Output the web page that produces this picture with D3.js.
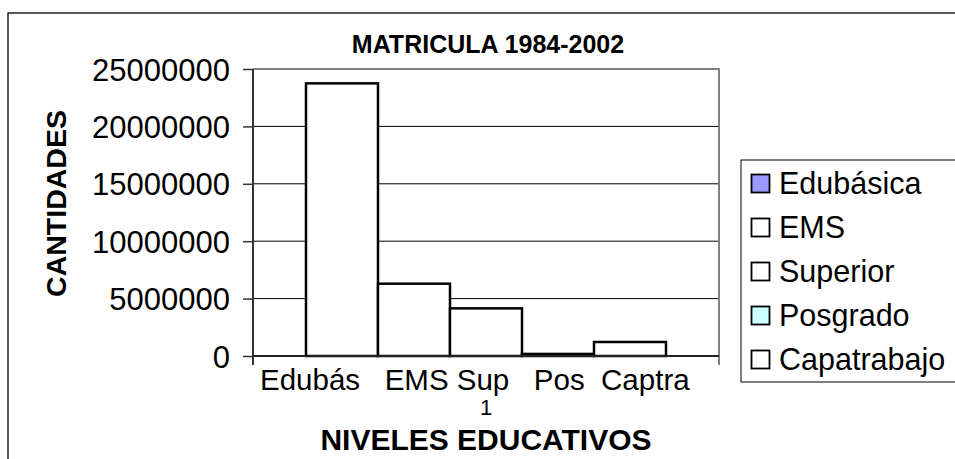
<!DOCTYPE html>
<html>
<head>
<meta charset="utf-8">
<script src="https://cdn.jsdelivr.net/npm/d3@7"></script>
<style>
  body { margin: 0; background: #fff; }
  text { font-family: "Liberation Sans", Arial, sans-serif; }
</style>
</head>
<body>
<svg id="chart"></svg>
<script>
// series of the single category "1"
var series = ["Edubásica", "EMS", "Superior", "Posgrado", "Capatrabajo"];
var values = [23750000, 6300000, 4150000, 180000, 1220000];
var legendFills = ["#9999ff", "#ffffff", "#ffffff", "#ccffff", "#ffffff"];
// labels typed under the bars
var barLabels = ["Edubás", "EMS", "Sup", "Pos", "Captra"];
var labelGaps = ["   ", " ", "   ", "  "];
var yTicks = [0, 5000000, 10000000, 15000000, 20000000, 25000000];
var categoryName = "1";

var svgWidth = 955,
    svgHeight = 459;
var plot = { left: 253, right: 719, top: 69, bottom: 356 };

var svg = d3.select('#chart')
    .attr('width', svgWidth)
    .attr('height', svgHeight);

// outer chart frame (runs off the right and bottom)
svg.append('rect')
    .attr('x', 8).attr('y', 13)
    .attr('width', 1000).attr('height', 500)
    .attr('fill', 'none')
    .attr('stroke', '#000')
    .attr('stroke-width', 1.3);

var x = d3.scaleBand()
    .domain(series)
    .range([plot.left, plot.right])
    .paddingInner(0)
    .paddingOuter(0.736);

var y = d3.scaleLinear()
    .domain([0, 25000000])
    .range([plot.bottom, plot.top]);

// gridlines
svg.append('g')
    .selectAll('line')
    .data(yTicks.filter(d => d > 0 && d < 25000000))
    .enter().append('line')
    .attr('x1', plot.left).attr('x2', plot.right)
    .attr('y1', d => y(d)).attr('y2', d => y(d))
    .attr('stroke', '#000')
    .attr('stroke-width', 1);

// plot area border top and right
svg.append('path')
    .attr('d', 'M' + plot.left + ',' + y(25000000) + 'H' + plot.right + 'V' + (plot.bottom + 9))
    .attr('fill', 'none')
    .attr('stroke', '#808080')
    .attr('stroke-width', 2);

// bars
svg.append('g')
    .selectAll('rect')
    .data(values)
    .enter().append('rect')
    .attr('x', (d, i) => x(series[i]))
    .attr('y', d => y(d))
    .attr('width', x.bandwidth())
    .attr('height', d => y(0) - y(d))
    .attr('fill', '#fff')
    .attr('stroke', '#000')
    .attr('stroke-width', 2.5);

// y axis
var yAxis = svg.append('g')
    .attr('transform', 'translate(' + plot.left + ',0)')
    .call(d3.axisLeft(y).tickValues(yTicks).tickFormat(d3.format('d')).tickSize(10).tickPadding(13));
yAxis.select('.domain').remove();
yAxis.selectAll('.tick line').attr('stroke', '#333').attr('stroke-width', 1.5);
yAxis.selectAll('.tick text')
    .attr('fill', '#000')
    .style('font-size', '31px')
    .attr('dy', '0.36em');

// axis lines
svg.append('line')
    .attr('x1', plot.left).attr('x2', plot.left)
    .attr('y1', y(25000000)).attr('y2', plot.bottom + 9)
    .attr('stroke', '#333').attr('stroke-width', 2);
svg.append('line')
    .attr('x1', plot.left).attr('x2', plot.right)
    .attr('y1', y(0)).attr('y2', y(0))
    .attr('stroke', '#222').attr('stroke-width', 2);

// labels under the bars, one typed line
var lbl = svg.append('text')
    .attr('x', plot.left + 7)
    .attr('y', 390)
    .style('font-size', '29.5px')
    .style('white-space', 'pre')
    .attr('fill', '#000');
lbl.text(barLabels.map((d, i) => d + (labelGaps[i] || '')).join(''));

// category label
svg.append('text')
    .attr('x', (plot.left + plot.right) / 2)
    .attr('y', 415)
    .attr('text-anchor', 'middle')
    .style('font-size', '22px')
    .text(categoryName);

// titles
svg.append('text')
    .attr('x', 488).attr('y', 53)
    .attr('text-anchor', 'middle')
    .style('font-size', '25px')
    .style('font-weight', 'bold')
    .text('MATRICULA 1984-2002');

svg.append('text')
    .attr('x', 486).attr('y', 450)
    .attr('text-anchor', 'middle')
    .style('font-size', '30px')
    .style('font-weight', 'bold')
    .text('NIVELES EDUCATIVOS');

svg.append('text')
    .attr('transform', 'translate(66,203.5) rotate(-90)')
    .attr('text-anchor', 'middle')
    .style('font-size', '28.5px')
    .style('font-weight', 'bold')
    .text('CANTIDADES');

// legend
var legend = svg.append('g').attr('transform', 'translate(741,160)');
legend.append('rect')
    .attr('x', 0).attr('y', 0)
    .attr('width', 300).attr('height', 222)
    .attr('fill', '#fff')
    .attr('stroke', '#000')
    .attr('stroke-width', 1);
var item = legend.selectAll('.item')
    .data(series)
    .enter().append('g')
    .attr('class', 'item')
    .attr('transform', (d, i) => 'translate(0,' + (23.5 + i * 44) + ')');
item.append('rect')
    .attr('x', 10.5).attr('y', -9)
    .attr('width', 18).attr('height', 18)
    .attr('fill', (d, i) => legendFills[i])
    .attr('stroke', '#000')
    .attr('stroke-width', 1.8);
item.append('text')
    .attr('x', 38)
    .attr('y', 10.5)
    .style('font-size', '30.5px')
    .text(d => d);
</script>
</body>
</html>
